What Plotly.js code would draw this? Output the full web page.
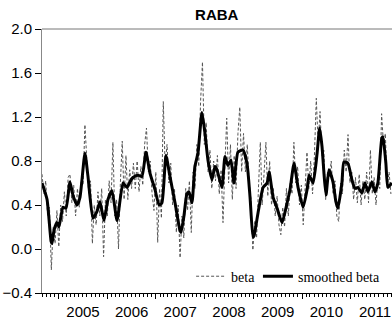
<!DOCTYPE html>
<html>
<head>
<meta charset="utf-8">
<script src="https://cdn.plot.ly/plotly-3.0.1.min.js"></script>
<style>html,body{margin:0;padding:0;background:#fff}#chart{width:392px;height:324px}</style>
</head>
<body>
<div id="chart"></div>
<script>
// Raw beta: fortnightly observations starting 2004-08-29
const betaStart = "2004-08-29";
const betaStepDays = 14;
const beta = [
 0.68,0.50,0.62,0.30,0.38,-0.19,0.20,0.05,0.35,0.02,0.40,0.25,0.52,0.30,0.65,0.68,
 0.42,0.58,0.30,0.55,0.38,0.62,0.58,1.13,0.82,0.50,0.62,0.05,0.40,0.22,0.52,0.30,
 0.55,-0.07,0.45,0.30,0.62,0.42,0.97,0.30,0.45,0.00,0.60,0.98,0.45,0.85,0.45,0.72,
 0.55,0.78,0.55,0.80,0.52,0.75,0.58,0.95,1.10,0.70,0.80,0.50,0.35,0.70,0.06,0.55,
 0.28,1.34,0.75,0.95,0.60,0.78,0.40,0.55,0.15,0.40,-0.08,0.30,0.10,0.55,0.35,0.62,
 0.15,0.70,0.55,0.95,0.75,1.35,1.70,0.95,1.15,0.70,0.90,0.55,0.80,0.62,0.85,0.50,
 0.72,0.24,0.75,1.19,0.60,0.95,0.45,0.85,0.55,1.05,1.29,0.70,1.05,0.70,0.95,0.60,
 0.45,-0.01,0.25,0.10,0.55,0.97,0.40,0.70,0.97,0.48,0.80,0.40,0.55,0.30,0.48,0.22,
 0.13,0.38,0.20,0.55,0.30,0.60,0.50,0.97,0.60,0.75,0.40,0.58,0.22,0.55,0.88,0.55,
 0.80,0.50,0.85,1.37,0.95,1.25,0.85,0.90,0.45,0.70,0.65,0.80,0.50,0.62,0.30,0.25,
 0.60,0.50,0.90,0.70,1.04,0.60,0.70,0.45,0.65,0.42,0.68,0.40,0.62,0.45,0.70,0.42,
 0.90,0.50,0.65,0.40,0.65,0.55,1.23,0.95,1.05,0.55,0.70,0.50
];

// Smoothed beta
const smoothDates = [
 "2004-08-29","2004-10-06","2004-11-05","2004-11-12","2004-11-27","2004-12-19","2005-01-03",
 "2005-02-02","2005-02-25","2005-03-27","2005-04-18","2005-05-18","2005-06-10","2005-07-17",
 "2005-08-09","2005-09-15","2005-10-15","2005-11-07","2005-12-07","2006-01-06","2006-02-05",
 "2006-03-15","2006-04-29","2006-05-29","2006-06-20","2006-07-13","2006-08-19","2006-09-18",
 "2006-10-18","2006-11-17","2006-12-25","2007-01-24","2007-02-15","2007-03-17","2007-04-16",
 "2007-05-24","2007-06-30","2007-07-08","2007-07-30","2007-08-21","2007-09-05","2007-09-28",
 "2007-10-20","2007-11-12","2007-12-12","2008-01-04","2008-01-26","2008-02-25","2008-03-19",
 "2008-04-03","2008-05-10","2008-06-02","2008-06-24","2008-07-17","2008-08-08","2008-09-07",
 "2008-10-15","2008-11-14","2008-12-07","2008-12-29","2009-01-06","2009-02-05","2009-03-15",
 "2009-04-14","2009-04-29","2009-05-29","2009-06-28","2009-08-04","2009-09-11","2009-10-03",
 "2009-11-02","2009-12-02","2010-01-09","2010-02-08","2010-02-23","2010-03-25","2010-04-24",
 "2010-05-13","2010-05-31","2010-06-15","2010-06-30","2010-07-22","2010-08-21","2010-09-12",
 "2010-09-27","2010-10-27","2010-11-11","2010-12-11","2011-01-10","2011-02-02","2011-02-24",
 "2011-03-26","2011-04-18","2011-05-10","2011-06-09","2011-07-02","2011-07-24","2011-08-23",
 "2011-08-31","2011-09-22","2011-10-07","2011-11-06"
];
const smoothBeta = [
 0.60,0.45,0.07,0.05,0.17,0.24,0.20,
 0.38,0.37,0.61,0.49,0.40,0.47,0.87,
 0.66,0.28,0.34,0.43,0.26,0.45,0.53,
 0.26,0.60,0.56,0.61,0.65,0.67,0.66,
 0.88,0.69,0.54,0.40,0.42,0.85,0.66,
 0.42,0.17,0.15,0.30,0.50,0.52,0.42,
 0.75,0.87,1.24,1.05,0.81,0.63,0.75,
 0.72,0.56,0.84,0.76,0.81,0.60,0.88,
 0.90,0.78,0.47,0.11,0.12,0.33,0.56,
 0.60,0.70,0.47,0.37,0.24,0.42,0.54,
 0.78,0.56,0.38,0.54,0.67,0.60,0.87,
 1.10,0.93,0.68,0.49,0.72,0.61,0.43,
 0.37,0.60,0.79,0.78,0.63,0.55,0.56,
 0.51,0.60,0.52,0.61,0.52,0.60,1.01,
 1.02,0.78,0.56,0.60
];

const yTicks = [-0.4, 0.0, 0.4, 0.8, 1.2, 1.6, 2.0];

const t0 = Date.parse(betaStart + "T00:00:00Z");
const betaDates = beta.map((v, i) => new Date(t0 + i * betaStepDays * 86400000).toISOString().slice(0, 10));

const sansNarrow = "Liberation Sans Narrow, Arial Narrow, sans-serif";
const legendFont = {family: "Liberation Serif, Times New Roman, serif", size: 14, color: "#000"};

const traces = [
  {x: betaDates, y: beta, name: "beta", type: "scatter", mode: "lines", legend: "legend",
   line: {color: "#555", width: 1, dash: "3px,2px"}},
  {x: smoothDates, y: smoothBeta, name: "smoothed beta", type: "scatter", mode: "lines", legend: "legend2",
   line: {color: "#000", width: 3, shape: "spline", smoothing: 0.5}}
];

const layout = {
  width: 392, height: 324,
  margin: {l: 42, r: 0, t: 29, b: 31, pad: 0},
  paper_bgcolor: "#fff", plot_bgcolor: "#fff",
  font: {family: sansNarrow, size: 15, color: "#000"},
  title: {text: "<b>RABA</b>", x: 0.553, xref: "container", xanchor: "center",
          y: 1 - 15/324, yref: "container", yanchor: "middle",
          font: {family: sansNarrow, size: 15, color: "#000"}},
  showlegend: true,
  legend: {orientation: "h", x: 0.426, xanchor: "left", y: 0.062, yanchor: "middle",
           bgcolor: "rgba(0,0,0,0)", font: legendFont},
  legend2: {orientation: "h", x: 0.617, xanchor: "left", y: 0.062, yanchor: "middle",
           bgcolor: "rgba(0,0,0,0)", font: legendFont},
  xaxis: {type: "date", range: ["2004-08-29", "2011-11-07"],
          dtick: "M12", tick0: "2005-01-01", tickformat: "%Y", ticklabelmode: "period",
          ticks: "outside", ticklen: 5, tickwidth: 1, tickcolor: "#000",
          minor: {dtick: "M1", ticks: "outside", ticklen: 3, tickwidth: 1, tickcolor: "#000"},
          showline: true, linecolor: "#000", linewidth: 1, showgrid: false, zeroline: false,
          tickfont: {family: sansNarrow, size: 15}},
  yaxis: {range: [-0.4, 2.0], tickvals: yTicks, tickformat: ".1f",
          ticks: "outside", ticklen: 6, tickwidth: 1, tickcolor: "#000",
          showline: true, linecolor: "#888", linewidth: 1, showgrid: false, zeroline: false,
          tickfont: {family: sansNarrow, size: 15}},
  shapes: [{type: "line", xref: "paper", yref: "paper", x0: 0, x1: 1, y0: 1, y1: 1,
            line: {color: "#777", width: 1}}]
};

Plotly.newPlot("chart", traces, layout, {displayModeBar: false, staticPlot: true});
</script>
</body>
</html>
